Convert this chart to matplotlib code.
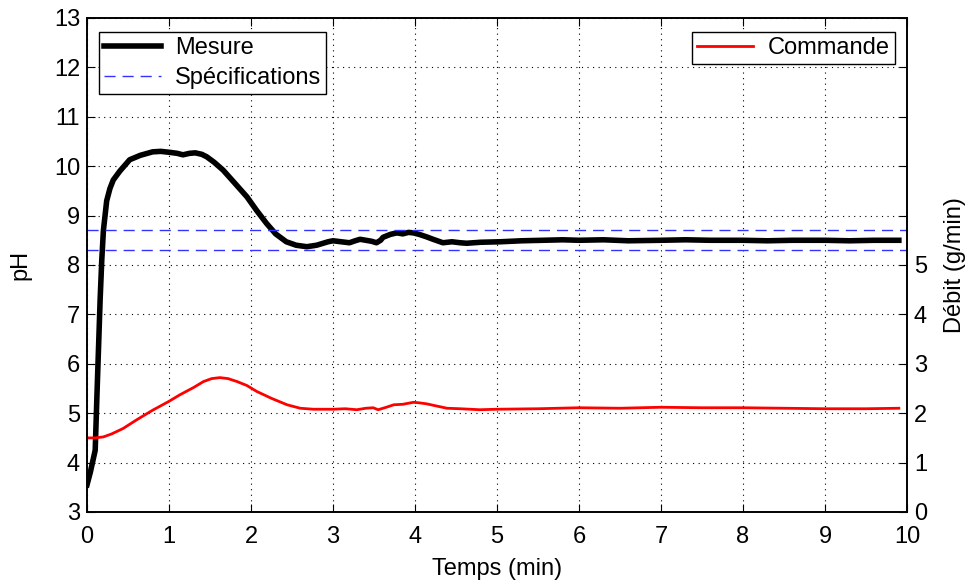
import numpy as np
import matplotlib.pyplot as plt

plt.rcParams['font.family'] = ['Liberation Sans', 'DejaVu Sans']

# mesure pH
t_mesure = [0.0, 0.04, 0.08, 0.1, 0.12, 0.14, 0.16, 0.18, 0.2, 0.24, 0.28, 0.32, 0.4, 0.52, 0.65,
            0.8, 0.9, 1.01, 1.1, 1.17, 1.25, 1.32, 1.4, 1.46, 1.55, 1.66, 1.8, 1.95, 2.07, 2.19,
            2.3, 2.43, 2.55, 2.68, 2.8, 2.94, 3.0, 3.1, 3.2, 3.27, 3.33, 3.4, 3.47, 3.53, 3.58,
            3.61, 3.7, 3.78, 3.85, 3.92, 3.98, 4.05, 4.14, 4.22, 4.34, 4.45, 4.55, 4.63, 4.8,
            5.04, 5.3, 5.56, 5.8, 6.0, 6.3, 6.6, 7.0, 7.3, 7.6, 8.0, 8.3, 8.6, 9.0, 9.3, 9.6, 9.9]
ph_mesure = [3.55, 3.8, 4.1, 4.25, 5.3, 6.3, 7.3, 8.1, 8.7, 9.3, 9.55, 9.72, 9.9, 10.13, 10.22,
             10.29, 10.3, 10.28, 10.26, 10.23, 10.26, 10.27, 10.24, 10.19, 10.08, 9.92, 9.66, 9.38, 9.1, 8.84,
             8.63, 8.47, 8.4, 8.37, 8.4, 8.47, 8.49, 8.47, 8.45, 8.49, 8.52, 8.5, 8.48, 8.45, 8.5,
             8.56, 8.62, 8.65, 8.63, 8.66, 8.65, 8.62, 8.57, 8.52, 8.45, 8.47, 8.45, 8.44, 8.46,
             8.47, 8.49, 8.5, 8.51, 8.5, 8.51, 8.49, 8.5, 8.51, 8.5, 8.5, 8.49, 8.5, 8.5, 8.49, 8.5, 8.5]

# commande debit (g/min)
t_cmd = [0.0, 0.1, 0.2, 0.3, 0.44, 0.6, 0.8, 1.0, 1.13, 1.3, 1.42, 1.52, 1.62, 1.72, 1.83,
         1.95, 2.07, 2.25, 2.44, 2.6, 2.76, 2.94, 3.0, 3.15, 3.29, 3.4, 3.49, 3.55, 3.65, 3.74,
         3.85, 3.98, 4.05, 4.14, 4.25, 4.39, 4.55, 4.79, 5.0, 5.5, 6.0, 6.5, 7.0, 7.5, 8.0,
         8.5, 9.0, 9.5, 9.9]
debit_cmd = [1.5, 1.5, 1.52, 1.58, 1.69, 1.86, 2.06, 2.24, 2.37, 2.52, 2.64, 2.7, 2.72, 2.7, 2.64,
             2.56, 2.44, 2.3, 2.17, 2.1, 2.08, 2.08, 2.08, 2.09, 2.07, 2.1, 2.11, 2.07, 2.12, 2.17,
             2.18, 2.22, 2.21, 2.19, 2.15, 2.1, 2.09, 2.07, 2.08, 2.09, 2.11, 2.1, 2.12, 2.11, 2.11,
             2.1, 2.09, 2.09, 2.1]

spec_bas = 8.3
spec_haut = 8.7

fs = 17

fig = plt.figure(figsize=(9.7, 5.82), dpi=100)
ax = fig.add_axes([0.0897, 0.1203, 0.8454, 0.8488])
ax2 = ax.twinx()

l1, = ax.plot(t_mesure, ph_mesure, color='black', lw=4, label='Mesure')
l2, = ax.plot([0, 10], [spec_haut, spec_haut], color='#3333ff', lw=1.0, ls=(0, (8, 5)),
              label='Spécifications')
ax.plot([0, 10], [spec_bas, spec_bas], color='#3333ff', lw=1.0, ls=(0, (8, 5)))
l3, = ax2.plot(t_cmd, debit_cmd, color='red', lw=2, label='Commande')

ax.set_xlim(0, 10)
ax.set_ylim(3, 13)
ax2.set_ylim(0, 10)
ax.set_xticks(range(0, 11))
ax.set_yticks(range(3, 14))
ax2.set_yticks(range(0, 11))
ax2.set_yticklabels([str(i) if i <= 5 else '' for i in range(0, 11)])

ax.grid(True, color='black', ls=(0, (1, 4)), lw=0.8)
ax.tick_params(direction='in', top=True, labelsize=fs, length=6, pad=5)
ax.tick_params(axis='x', pad=10)
ax2.tick_params(direction='in', labelsize=fs, length=6, pad=5)
for a in (ax, ax2):
    for s in a.spines.values():
        s.set_linewidth(1.2)

ax.set_xlabel('Temps (min)', fontsize=fs, labelpad=7)
ax.set_ylabel('pH', fontsize=fs, labelpad=16)
ax2.set_ylabel('Débit (g/min)', fontsize=fs, labelpad=12)

leg1 = ax.legend(handles=[l1, l2], loc='upper left', fontsize=fs, fancybox=False,
                 edgecolor='black', framealpha=1, handlelength=2.4, handletextpad=0.6,
                 borderpad=0.22, labelspacing=0.35, borderaxespad=0,
                 bbox_to_anchor=(0.0146, 0.972))
leg1.get_frame().set_linewidth(1.0)
leg2 = ax2.legend(handles=[l3], loc='upper right', fontsize=fs, fancybox=False,
                  edgecolor='black', framealpha=1, handlelength=2.4, handletextpad=0.6,
                  borderpad=0.22, borderaxespad=0, bbox_to_anchor=(0.985, 0.972))
leg2.get_frame().set_linewidth(1.0)

fig.savefig('out.png', dpi=100)
